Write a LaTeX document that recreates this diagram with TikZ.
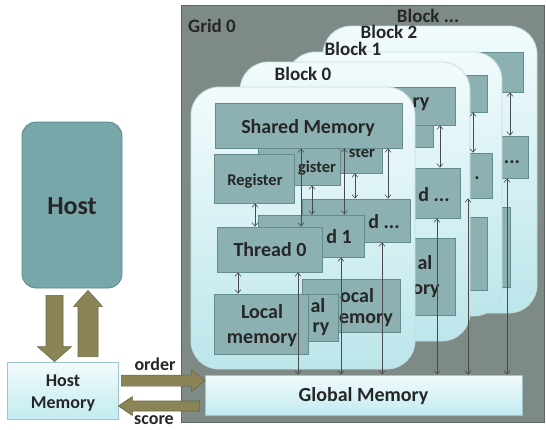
\documentclass[tikz,border=0pt]{standalone}
\usepackage{fontspec}
\setmainfont{Carlito}
\usetikzlibrary{arrows.meta,calc}

\definecolor{gridgray}{HTML}{7E8A85}
\definecolor{gridline}{HTML}{5E6964}
\definecolor{boxteal}{HTML}{8DB1B2}
\definecolor{boxline}{HTML}{658C8D}
\definecolor{hostteal}{HTML}{78A7A9}
\definecolor{hostline}{HTML}{5A8A8C}
\definecolor{blktop}{HTML}{F2FBFC}
\definecolor{blkbot}{HTML}{BCE6EB}
\definecolor{blkline}{HTML}{C2DDE0}
\definecolor{memtop}{HTML}{F2FBFC}
\definecolor{membot}{HTML}{C3EBF0}
\definecolor{memline}{HTML}{9CC6CB}
\definecolor{olivefill}{HTML}{8A8456}
\definecolor{oliveline}{HTML}{6B673F}
\definecolor{ink}{HTML}{262626}
\definecolor{connc}{HTML}{4A4A4A}

% a box given by its corners, with an optional text node of its own
\newcommand\mkbox[8]{%
  \pgfmathsetmacro\mbxc{(#3+#5)/2}\pgfmathsetmacro\mbyc{(#4+#6)/2}%
  \pgfmathsetmacro\mbw{#5-#3}\pgfmathsetmacro\mbh{#6-#4}%
  \node[#2, minimum width=\mbw pt, minimum height=\mbh pt] (#1) at (\mbxc,\mbyc) {};%
  \if\relax\detokenize{#8}\relax\else\node[lbl,#7] (#1-t) {#8};\fi}

% vertical two-way link from an anchor (shifted sideways) to the level of another anchor
\newcommand\vconn[3]{\path ([xshift=#2pt]#1) coordinate (vc);\draw[conn] (vc) -- (vc |- #3);}

\begin{document}
\begin{tikzpicture}[x=1pt,y=-1pt,
  cell/.style={draw=boxline, fill=boxteal, line width=0.8pt, inner sep=0pt, rectangle},
  blockbg/.style={draw=blkline, line width=0.8pt, rounded corners=28pt, top color=blktop, bottom color=blkbot, inner sep=0pt},
  gridbox/.style={draw=gridline, fill=gridgray, line width=1pt, inner sep=0pt},
  membox/.style={draw=memline, line width=0.8pt, top color=memtop, bottom color=membot, inner sep=0pt},
  hostbox/.style={draw=hostline, fill=hostteal, line width=0.8pt, rounded corners=14pt, inner sep=0pt},
  lbl/.style={text=ink, align=center, inner sep=0pt},
  big/.style={font=\bfseries\fontsize{20}{25}\selectfont},
  reg/.style={font=\bfseries\fontsize{16.5}{20}\selectfont},
  blk/.style={font=\bfseries\fontsize{19}{22}\selectfont},
  hostf/.style={font=\bfseries\fontsize{26}{30}\selectfont},
  hmf/.style={font=\bfseries\fontsize{18}{22}\selectfont},
  conn/.style={draw=connc, line width=0.6pt, <->, >={Straight Barb[length=3.5pt,width=6pt]}},
  bigarr/.style={fill=olivefill, draw=oliveline, line width=0.6pt}]

\useasboundingbox (0,0) rectangle (546,429);
\fill[white] (0,0) rectangle (546,429);

% grid
\mkbox{grid}{gridbox}{181}{5}{544}{422}{at={(212,26)}, blk}{Grid 0}

% block ...
\mkbox{blk3}{blockbg}{323}{26}{537}{313}{}{}
\mkbox{b3sh}{cell}{420}{52}{523}{92}{}{}
\mkbox{b3t}{cell}{420}{136}{528}{178}{}{}
\node[lbl, big] (b3t-t) at (512,162) {...};
\mkbox{b3l}{cell}{420}{207}{510}{287}{}{}

% block 2
\mkbox{blk2}{blockbg}{287}{52}{502}{316}{}{}
\mkbox{b2sh}{cell}{380}{75}{487}{112}{}{}
\mkbox{b2t}{cell}{400}{153}{492}{198}{}{}
\node[lbl, big] (b2t-t) at (477,178) {.};
\mkbox{b2l}{cell}{400}{217}{487}{290}{}{}

% block 1
\mkbox{blk1}{blockbg}{240}{62}{470}{341}{}{}
\mkbox{b1sh}{cell}{265}{87}{455}{125}{}{}
\node[lbl, big] (b1sh-t) at (421,104) {ry};
\mkbox{b1r}{cell}{350}{125}{433}{147}{}{}
\mkbox{b1t}{cell}{350}{168}{460}{218}{}{}
\node[lbl, big] (b1t-t) at (434,195) {d ...};
\mkbox{b1l}{cell}{355}{238}{455}{315}{}{}
\node[lbl, big] (b1l-a) at (425,263) {al};
\node[lbl, big] (b1l-b) at (426,291) {ory};

% block 0
\mkbox{blk0}{blockbg}{191}{87}{415}{369}{}{}
\mkbox{b0rT}{cell}{300}{128}{382}{173}{}{}
\node[lbl, reg] (b0rT-t) at (362,152) {ster};
\mkbox{b0tT}{cell}{302}{199}{410}{242}{}{}
\node[lbl, big] (b0tT-t) at (384,222) {d ...};
\mkbox{b0lT}{cell}{302}{279}{400}{332}{}{}
\node[lbl, big] (b0lT-a) at (357,296) {ocal};
\node[lbl, big] (b0lT-b) at (366,320) {emory};
\mkbox{b0r1}{cell}{258}{140}{340}{185}{}{}
\node[lbl, reg] (b0r1-t) at (317,168) {gister};
\mkbox{b0t1}{cell}{258}{215}{364}{257}{}{}
\node[lbl, big] (b0t1-t) at (339,237) {d 1};
\mkbox{b0l1}{cell}{254}{294}{338}{341}{}{}
\node[lbl, big] (b0l1-a) at (318,306) {al};
\node[lbl, big] (b0l1-b) at (321,329) {ry};
\mkbox{b0r0}{cell}{214}{154}{294}{203}{at={(255,181)}, reg}{Register}
\mkbox{b0t0}{cell}{217}{227}{322}{272}{at={(270,250)}, big}{Thread 0}
\mkbox{b0l0}{cell}{214}{294}{308}{354}{at={(262,326)}, big}{Local\\memory}
\mkbox{b0sh}{cell}{215}{103}{402}{148}{at={(308,128)}, big}{Shared Memory}

% block titles
\node[lbl, blk] (lab3) at (428,16) {Block ...};
\node[lbl, blk] (lab2) at (389,32) {Block 2};
\node[lbl, blk] (lab1) at (353,49) {Block 1};
\node[lbl, blk] (lab0) at (303,74) {Block 0};

% global memory
\mkbox{gm}{membox}{205}{375}{522}{415}{at={(363.5,396)}, big}{Global Memory}

% links inside block 0
\vconn{b0r0.south}{1}{b0t0.north}
\vconn{b0t0.south}{-31.5}{b0l0.north}
\vconn{b0sh.south}{-7.5}{b0t0.north}
\vconn{b0t0.south}{28.5}{gm.north}
\vconn{b0r1.south}{13}{b0t1.north}
\vconn{b0sh.south}{36}{b0t1.north}
\vconn{b0t1.south}{30}{gm.north}
\vconn{b0rT.south}{14}{b0tT.north}
\vconn{b0sh.south}{79.5}{b0tT.north}
\vconn{b0tT.south}{26}{gm.north}
% links of the other blocks
\vconn{b1sh.south}{80}{b1t.north}
\vconn{b1t.south}{32}{gm.north}
\vconn{b2sh.south}{39.5}{b2t.north}
\vconn{b2t.south}{22}{gm.north}
\vconn{b3sh.south}{38.5}{b3t.north}
\vconn{b3t.south}{33}{gm.north}

% host side
\mkbox{host}{hostbox}{22}{122}{122}{288}{at={(72,206)}, hostf}{Host}
\mkbox{hostmem}{membox}{7}{362}{118}{419}{at={(63,393)}, hmf}{Host\\Memory}

% host -> host memory
\coordinate (hdS) at ($(host.south)+(-17.5,7)$);
\coordinate (hdE) at (hdS |- hostmem.north);
\draw[bigarr] ($(hdS)+(-8.5,0)$) -- ($(hdS)+(8.5,0)$) -- ($(hdE)+(8.5,-15)$) -- ($(hdE)+(17,-15)$)
  -- (hdE) -- ($(hdE)+(-17,-15)$) -- ($(hdE)+(-8.5,-15)$) -- cycle;
% host memory -> host
\coordinate (huS) at ($(hostmem.north)+(25.5,-5)$);
\coordinate (huE) at ($(huS |- host.south)+(0,2)$);
\draw[bigarr] ($(huS)+(-10,0)$) -- ($(huS)+(10,0)$) -- ($(huE)+(10,16)$) -- ($(huE)+(14.5,16)$)
  -- (huE) -- ($(huE)+(-14.5,16)$) -- ($(huE)+(-10,16)$) -- cycle;
% order: host memory -> global memory
\coordinate (oS) at ($(hostmem.north east)+(3,19)$);
\coordinate (oE) at (oS -| gm.west);
\draw[bigarr] ($(oS)+(0,-5.5)$) -- ($(oE)+(-13,-5.5)$) -- ($(oE)+(-13,-11)$) -- (oE)
  -- ($(oE)+(-13,11)$) -- ($(oE)+(-13,5.5)$) -- ($(oS)+(0,5.5)$) -- cycle;
% score: global memory -> host memory
\coordinate (sS) at ($(gm.west)+(-5,11)$);
\coordinate (sE) at (sS -| hostmem.east);
\draw[bigarr] ($(sS)+(0,-5)$) -- ($(sE)+(14,-5)$) -- ($(sE)+(14,-9.5)$) -- (sE)
  -- ($(sE)+(14,9.5)$) -- ($(sE)+(14,5)$) -- ($(sS)+(0,5)$) -- cycle;

\node[lbl, hmf] (order) at (155,364) {order};
\node[lbl, hmf] (score) at (154,420) {score};
\end{tikzpicture}
\end{document}
